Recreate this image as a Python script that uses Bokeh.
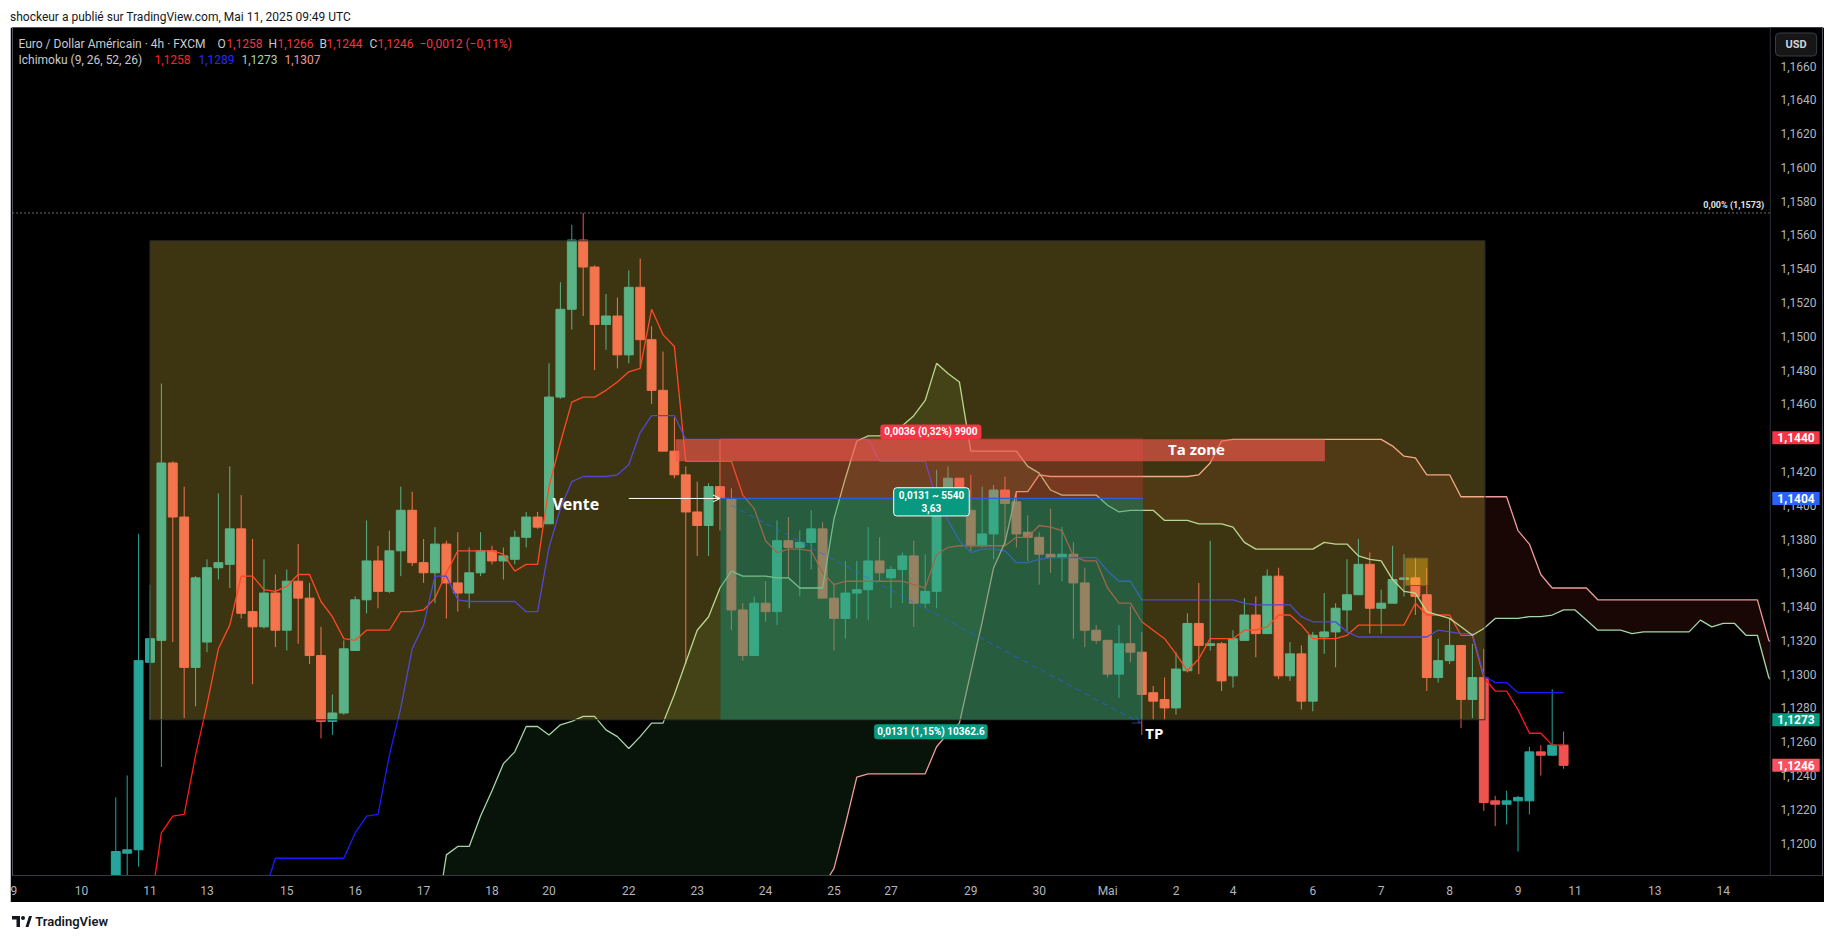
from bokeh.plotting import figure
from bokeh.models import (ColumnDataSource, Range1d, FixedTicker, CustomJSTickFormatter,
                          Label, Arrow, OpenHead, Div, Span)
from bokeh.layouts import column
from bokeh.embed import file_html
from bokeh.resources import INLINE

# ---------------- data (EUR/USD 4h, FXCM) ----------------
opens = [1.1160,1.1194,1.1196,1.1307,1.1320,1.1425,1.1393,1.1304,1.1319,1.1363,
         1.1365,1.1386,1.1337,1.1328,1.1348,1.1326,1.1355,1.1345,1.1311,1.1272,
         1.1277,1.1314,1.1344,1.1367,1.1349,1.1373,1.1397,1.1366,1.1360,1.1377,
         1.1354,1.1348,1.1360,1.1373,1.1367,1.1368,1.1381,1.1393,1.1389,1.1464,
         1.1516,1.1557,1.1541,1.1507,1.1512,1.1489,1.1529,1.1498,1.1468,1.1432,
         1.1418,1.1396,1.1388,1.1411,1.1404,1.1338,1.1311,1.1342,1.1337,1.1379,
         1.1375,1.1378,1.1386,1.1345,1.1333,1.1348,1.1350,1.1367,1.1357,1.1362,
         1.1370,1.1342,1.1349,1.1403,1.1416,1.1397,1.1376,1.1383,1.1409,1.1402,
         1.1384,1.1381,1.1371,1.1369,1.1371,1.1354,1.1326,1.1320,1.1300,1.1318,
         1.1313,1.1289,1.1285,1.1280,1.1302,1.1330,1.1317,1.1318,1.1299,1.1320,
         1.1335,1.1324,1.1358,1.1299,1.1312,1.1284,1.1322,1.1325,1.1338,1.1347,
         1.1365,1.1339,1.1342,1.1356,1.1357,1.1347,1.1298,1.1308,1.1317,1.1285,
         1.1298,1.1225,1.1223,1.1225,1.1225,1.1254,1.1252,1.1258]
highs = [1.1227,1.1240,1.1383,1.1353,1.1472,1.1426,1.1411,1.1358,1.1368,1.1407,
         1.1423,1.1406,1.1380,1.1368,1.1359,1.1362,1.1377,1.1354,1.1328,1.1288,
         1.1320,1.1346,1.1391,1.1376,1.1385,1.1411,1.1408,1.1380,1.1387,1.1379,
         1.1384,1.1375,1.1384,1.1376,1.1375,1.1385,1.1396,1.1396,1.1484,1.1532,
         1.1566,1.1573,1.1542,1.1525,1.1523,1.1539,1.1546,1.1506,1.1491,1.1452,
         1.1423,1.1414,1.1413,1.1439,1.1410,1.1342,1.1346,1.1355,1.1391,1.1393,
         1.1385,1.1397,1.1390,1.1354,1.1367,1.1367,1.1387,1.1381,1.1364,1.1372,
         1.1379,1.1371,1.1421,1.1423,1.1416,1.1418,1.1411,1.1412,1.1417,1.1408,
         1.1394,1.1384,1.1398,1.1387,1.1378,1.1363,1.1329,1.1320,1.1329,1.1340,
         1.1325,1.1293,1.1298,1.1313,1.1336,1.1354,1.1379,1.1319,1.1326,1.1345,
         1.1346,1.1362,1.1363,1.1319,1.1317,1.1325,1.1348,1.1342,1.1368,1.1380,
         1.1372,1.1350,1.1376,1.1371,1.1369,1.1363,1.1321,1.1333,1.1317,1.1318,
         1.1315,1.1228,1.1231,1.1228,1.1257,1.1258,1.1291,1.1266]
lows = [1.1150,1.1175,1.1186,1.1273,1.1245,1.1319,1.1274,1.1281,1.1313,1.1356,
        1.1351,1.1333,1.1294,1.1327,1.1316,1.1314,1.1318,1.1306,1.1262,1.1264,
        1.1276,1.1314,1.1336,1.1339,1.1348,1.1358,1.1364,1.1354,1.1342,1.1333,
        1.1337,1.1339,1.1358,1.1365,1.1356,1.1365,1.1375,1.1386,1.1389,1.1463,
        1.1504,1.1512,1.1480,1.1492,1.1481,1.1484,1.1482,1.1460,1.1432,1.1416,
        1.1306,1.1370,1.1370,1.1385,1.1326,1.1308,1.1311,1.1331,1.1329,1.1357,
        1.1346,1.1362,1.1345,1.1314,1.1321,1.1333,1.1332,1.1355,1.1339,1.1342,
        1.1328,1.1339,1.1339,1.1400,1.1395,1.1373,1.1375,1.1368,1.1376,1.1375,
        1.1367,1.1353,1.1360,1.1355,1.1321,1.1316,1.1318,1.1298,1.1286,1.1307,
        1.1264,1.1273,1.1273,1.1276,1.1301,1.1300,1.1314,1.1290,1.1292,1.1320,
        1.1310,1.1324,1.1297,1.1296,1.1279,1.1278,1.1312,1.1304,1.1325,1.1347,
        1.1324,1.1324,1.1342,1.1346,1.1335,1.1290,1.1295,1.1306,1.1268,1.1274,
        1.1219,1.1210,1.1211,1.1195,1.1217,1.1240,1.1252,1.1244]
closes = [1.1195,1.1196,1.1308,1.1321,1.1425,1.1393,1.1304,1.1357,1.1363,1.1366,
          1.1386,1.1336,1.1328,1.1348,1.1326,1.1355,1.1345,1.1311,1.1272,1.1277,
          1.1315,1.1344,1.1367,1.1349,1.1373,1.1397,1.1366,1.1360,1.1377,1.1354,
          1.1348,1.1360,1.1373,1.1367,1.1370,1.1381,1.1393,1.1387,1.1464,1.1516,
          1.1557,1.1541,1.1507,1.1512,1.1489,1.1529,1.1498,1.1468,1.1432,1.1418,
          1.1396,1.1388,1.1411,1.1404,1.1338,1.1311,1.1342,1.1337,1.1379,1.1375,
          1.1378,1.1386,1.1345,1.1333,1.1348,1.1350,1.1367,1.1360,1.1362,1.1370,
          1.1342,1.1349,1.1403,1.1416,1.1404,1.1376,1.1383,1.1409,1.1401,1.1383,
          1.1381,1.1371,1.1369,1.1371,1.1354,1.1326,1.1320,1.1300,1.1318,1.1313,
          1.1288,1.1284,1.1280,1.1303,1.1330,1.1317,1.1318,1.1296,1.1321,1.1335,
          1.1324,1.1358,1.1299,1.1312,1.1284,1.1323,1.1325,1.1339,1.1347,1.1365,
          1.1339,1.1342,1.1356,1.1357,1.1346,1.1298,1.1308,1.1317,1.1285,1.1298,
          1.1224,1.1223,1.1225,1.1227,1.1254,1.1252,1.1258,1.1246]

# Ichimoku (9, 26, 52, 26) lines, one value per bar
tenkan_start = 3
tenkan = [1.1160,1.1206,1.1216,1.1217,1.1252,1.1282,1.1315,1.1329,1.1358,1.1358,
          1.1350,1.1349,1.1352,1.1359,1.1359,1.1343,1.1334,1.1321,1.1320,1.1326,
          1.1326,1.1326,1.1337,1.1337,1.1338,1.1345,1.1360,1.1373,1.1373,1.1373,
          1.1373,1.1371,1.1361,1.1365,1.1365,1.1411,1.1437,1.1461,1.1464,1.1464,
          1.1468,1.1473,1.1479,1.1481,1.1516,1.1501,1.1494,1.1426,1.1426,1.1426,
          1.1426,1.1426,1.1406,1.1398,1.1379,1.1372,1.1374,1.1374,1.1373,1.1360,
          1.1353,1.1355,1.1355,1.1355,1.1355,1.1355,1.1355,1.1353,1.1351,1.1371,
          1.1375,1.1376,1.1376,1.1376,1.1376,1.1376,1.1381,1.1381,1.1388,1.1387,
          1.1385,1.1370,1.1367,1.1367,1.1351,1.1342,1.1342,1.1331,1.1326,1.1321,
          1.1312,1.1302,1.1309,1.1321,1.1321,1.1321,1.1326,1.1326,1.1328,1.1335,
          1.1335,1.1329,1.1321,1.1321,1.1321,1.1323,1.1329,1.1329,1.1329,1.1329,
          1.1329,1.1342,1.1335,1.1335,1.1335,1.1323,1.1323,1.1298,1.1290,1.1290,
          1.1279,1.1265,1.1265,1.1258,1.1258]
kijun_start = 13
kijun = [1.1170,1.1191,1.1191,1.1191,1.1191,1.1191,1.1191,1.1191,1.1206,1.1216,
         1.1217,1.1252,1.1280,1.1315,1.1329,1.1358,1.1358,1.1344,1.1343,1.1343,
         1.1343,1.1343,1.1343,1.1337,1.1337,1.1375,1.1398,1.1414,1.1417,1.1417,
         1.1417,1.1418,1.1424,1.1443,1.1453,1.1453,1.1453,1.1439,1.1439,1.1439,
         1.1439,1.1439,1.1439,1.1439,1.1439,1.1439,1.1439,1.1439,1.1439,1.1439,
         1.1439,1.1439,1.1439,1.1439,1.1426,1.1426,1.1426,1.1426,1.1426,1.1403,
         1.1391,1.1379,1.1372,1.1374,1.1374,1.1373,1.1366,1.1366,1.1368,1.1369,
         1.1369,1.1369,1.1369,1.1369,1.1361,1.1355,1.1355,1.1344,1.1344,1.1344,
         1.1344,1.1344,1.1344,1.1344,1.1344,1.1344,1.1342,1.1341,1.1341,1.1341,
         1.1341,1.1334,1.1331,1.1331,1.1331,1.1325,1.1322,1.1322,1.1322,1.1322,
         1.1322,1.1322,1.1322,1.1326,1.1325,1.1324,1.1324,1.1299,1.1295,1.1295,
         1.1289,1.1289,1.1289,1.1289,1.1289]
senkou_start = 28
senkou_a = [1.1150,1.1193,1.1198,1.1198,1.1216,1.1231,1.1247,1.1254,1.1269,1.1269,
            1.1264,1.1270,1.1272,1.1275,1.1275,1.1267,1.1263,1.1256,1.1263,1.1271,
            1.1271,1.1288,1.1307,1.1326,1.1334,1.1351,1.1361,1.1358,1.1358,1.1358,
            1.1357,1.1357,1.1351,1.1351,1.1351,1.1392,1.1416,1.1438,1.1441,1.1441,
            1.1444,1.1447,1.1453,1.1462,1.1484,1.1478,1.1473,1.1432,1.1432,1.1432,
            1.1432,1.1432,1.1423,1.1419,1.1409,1.1406,1.1406,1.1406,1.1406,1.1400,
            1.1396,1.1397,1.1397,1.1397,1.1391,1.1391,1.1391,1.1389,1.1389,1.1389,
            1.1387,1.1378,1.1374,1.1374,1.1374,1.1374,1.1374,1.1374,1.1378,1.1377,
            1.1377,1.1370,1.1368,1.1367,1.1356,1.1349,1.1348,1.1337,1.1335,1.1333,
            1.1328,1.1323,1.1327,1.1333,1.1333,1.1333,1.1334,1.1334,1.1335,1.1338,
            1.1338,1.1332,1.1326,1.1326,1.1326,1.1324,1.1325,1.1325,1.1325,1.1325,
            1.1325,1.1332,1.1328,1.1330,1.1330,1.1323,1.1323,1.1298,1.1290,1.1285,
            1.1280,1.1277,1.1275,1.1274,1.1273]
senkou_b = [1.1150,1.1150,1.1150,1.1150,1.1150,1.1150,1.1150,1.1150,1.1150,1.1150,
            1.1150,1.1150,1.1150,1.1150,1.1150,1.1150,1.1150,1.1150,1.1150,1.1150,
            1.1150,1.1150,1.1150,1.1150,1.1150,1.1150,1.1150,1.1150,1.1150,1.1150,
            1.1150,1.1150,1.1150,1.1160,1.1174,1.1185,1.1211,1.1239,1.1241,1.1241,
            1.1241,1.1241,1.1241,1.1241,1.1257,1.1265,1.1271,1.1301,1.1331,1.1363,
            1.1378,1.1408,1.1408,1.1418,1.1417,1.1417,1.1417,1.1417,1.1417,1.1417,
            1.1417,1.1417,1.1417,1.1417,1.1417,1.1417,1.1417,1.1418,1.1425,1.1438,
            1.1439,1.1439,1.1439,1.1439,1.1439,1.1439,1.1439,1.1439,1.1439,1.1439,
            1.1439,1.1439,1.1439,1.1439,1.1435,1.1429,1.1428,1.1418,1.1418,1.1418,
            1.1405,1.1405,1.1405,1.1405,1.1405,1.1385,1.1377,1.1359,1.1351,1.1351,
            1.1351,1.1351,1.1344,1.1344,1.1344,1.1344,1.1344,1.1344,1.1344,1.1344,
            1.1344,1.1344,1.1344,1.1344,1.1344,1.1344,1.1344,1.1320,1.1315,1.1312,
            1.1310,1.1309,1.1308,1.1307,1.1307]
cloud_cross = 81  # bar where leading span A falls below leading span B

price_ticks = [1.1200,1.1220,1.1240,1.1260,1.1280,1.1300,1.1320,1.1340,1.1360,1.1380,
               1.1400,1.1420,1.1440,1.1460,1.1480,1.1500,1.1520,1.1540,1.1560,1.1580,
               1.1600,1.1620,1.1640,1.1660]
time_tick_pos = [-9, -3, 3, 8, 15, 21, 27, 33, 38, 45, 51, 57, 63, 68, 75, 81, 87, 93, 98,
                 105, 111, 117, 123, 128, 135, 141]
time_tick_labels = ["9", "10", "11", "13", "15", "16", "17", "18", "20", "22", "23", "24",
                    "25", "27", "29", "30", "Mai", "2", "4", "6", "7", "8", "9", "11", "13", "14"]

# drawing objects (price levels / bar spans)
box_span = (3.0, 120.1); box_prices = (1.1273, 1.15565)
position_span = (53.04, 90.1)
entry_price = 1.1404; stop_price = 1.1440; target_price = 1.1273
ta_zone_span = (49.1, 106.06); ta_zone_prices = (1.1426, 1.1439)
small_span = (113.1, 115.09); small_prices = (1.13525, 1.13687)
fib_level = 1.1573
axis_badges = [(1.1440, "1,1440", "#f23645"), (1.1404, "1,1404", "#2962ff"),
               (1.1273, "1,1273", "#089981"), (1.1246, "1,1246", "#f7525f")]

UP = "#26a69a"; DOWN = "#ef5350"
FONT = "Roboto"
X0, XPLOT, XEND = -9.06, 145.13, 149.71   # left edge, price-scale edge, right edge (bars)
Y0, Y1 = 1.11808, 1.16828

# ---------------- figure ----------------
p = figure(frame_width=1810, frame_height=848,
           x_range=Range1d(X0, XEND), y_range=Range1d(Y0, Y1),
           output_backend="svg", toolbar_location=None, y_axis_location="right",
           min_border_left=2, min_border_right=2, min_border_top=0, min_border_bottom=27,
           background_fill_color="#000000", border_fill_color="#000000",
           outline_line_color="#50535e", margin=(0, 0, 0, 10))
p.grid.visible = False

# cloud fill
n = min(len(senkou_a), len(senkou_b))
sx = [senkou_start + k for k in range(n)]
ci = cloud_cross - senkou_start
p.varea(x=sx[:ci + 1], y1=senkou_a[:ci + 1], y2=senkou_b[:ci + 1],
        fill_color="#43a047", fill_alpha=0.12)
p.varea(x=sx[ci:], y1=senkou_a[ci:n], y2=senkou_b[ci:n],
        fill_color="#f44336", fill_alpha=0.10)

# candles
bars = list(range(len(opens)))
src = ColumnDataSource(dict(
    x=bars, o=opens, h=highs, l=lows, c=closes,
    top=[max(o, c) for o, c in zip(opens, closes)],
    bottom=[min(o, c) for o, c in zip(opens, closes)],
    color=[UP if c >= o else DOWN for o, c in zip(opens, closes)]))
p.segment(x0="x", y0="l", x1="x", y1="h", line_color="color", line_width=1, source=src)
p.vbar(x="x", width=0.78, top="top", bottom="bottom", fill_color="color",
       line_color="color", line_width=1, source=src)

# ichimoku lines
p.line([tenkan_start + k for k in range(len(tenkan))], tenkan, line_color="#ff1a1a", line_width=1.3)
p.line([kijun_start + k for k in range(len(kijun))], kijun, line_color="#1a1aff", line_width=1.3)
p.line([senkou_start + k for k in range(len(senkou_a))], senkou_a, line_color="#a5d6a7", line_width=1.3)
p.line([senkou_start + k for k in range(len(senkou_b))], senkou_b, line_color="#ef9a9a", line_width=1.3)

# drawings
p.quad(left=[box_span[0]], right=[box_span[1]], bottom=[box_prices[0]], top=[box_prices[1]],
       fill_color="#ffde46", fill_alpha=0.24, line_color="#2c2c2c", line_width=1)
p.quad(left=[position_span[0]], right=[position_span[1]], bottom=[target_price], top=[entry_price],
       fill_color="#089981", fill_alpha=0.40, line_color=None)
p.quad(left=[position_span[0]], right=[position_span[1]], bottom=[entry_price], top=[stop_price],
       fill_color="#f23645", fill_alpha=0.25, line_color=None)
p.segment(x0=[position_span[0]], y0=[entry_price], x1=[position_span[1]], y1=[entry_price],
          line_color="#2f5fd0", line_width=1.3)
p.quad(left=[ta_zone_span[0]], right=[ta_zone_span[1]], bottom=[ta_zone_prices[0]], top=[ta_zone_prices[1]],
       fill_color="#ff5a52", fill_alpha=0.60, line_color=None)
p.quad(left=[small_span[0]], right=[small_span[1]], bottom=[small_prices[0]], top=[small_prices[1]],
       fill_color="#ffc21a", fill_alpha=0.40, line_color="#6d5f2a", line_width=1)
p.segment(x0=[X0], y0=[fib_level], x1=[XPLOT], y1=[fib_level], line_color="#d1d4dc",
          line_dash="1 3", line_width=1)

# price-scale strip (black) and separator
p.quad(left=[XPLOT], right=[XEND], bottom=[Y0], top=[Y1], fill_color="#000000", line_color=None)
p.add_layout(Span(location=XPLOT, dimension="height", line_color="#2a2e39", line_width=1))

p.add_layout(Arrow(end=OpenHead(size=7, line_color="white", line_width=1),
                   x_start=45.0, y_start=entry_price, x_end=53.0, y_end=entry_price,
                   line_color="white", line_width=1))
p.add_layout(Arrow(end=OpenHead(size=8, line_color="#2962ff", line_alpha=0.6, line_width=1),
                   x_start=54.0, y_start=1.1400, x_end=89.9, y_end=1.1271,
                   line_color="#2962ff", line_alpha=0.55, line_dash="6 4", line_width=1.2))

def txt(x, y, text, **kw):
    opts = dict(text_font=FONT, text_font_size="12px", text_color="#c8cad0",
                text_baseline="middle", text_align="left")
    opts.update(kw)
    p.add_layout(Label(x=x, y=y, text=text, **opts))

txt(38.3, 1.1401, "Vente", text_font="Open Sans", text_font_size="16px",
    text_font_style="bold", text_color="white")
txt(92.3, 1.14335, "Ta zone", text_font="Open Sans", text_font_size="15px",
    text_font_style="bold", text_color="white")
txt(90.3, 1.1265, "TP", text_font="Open Sans", text_font_size="15px",
    text_font_style="bold", text_color="white")

txt(71.5, 1.14434, "0,0036 (0,32%) 9900", text_align="center", text_font_size="10px",
    text_font_style="bold", text_color="white", background_fill_color="#f23645",
    padding=(4, 2), border_radius=3)
txt(71.55, 1.1402, "0,0131 ~ 5540\n3,63", text_align="center", text_font_size="10px",
    text_font_style="bold", text_color="white", background_fill_color="#089981",
    border_line_color="white", border_line_width=1, padding=(5, 2), border_radius=3)
txt(71.5, 1.12659, "0,0131 (1,15%) 10362.6", text_align="center", text_font_size="10px",
    text_font_style="bold", text_color="white", background_fill_color="#089981",
    padding=(3, 2), border_radius=3)
txt(144.6, fib_level, "0,00% (1,1573)", text_align="right", text_font_size="9px",
    text_font_style="bold", text_color="#e0e0e0", y_offset=8)

# price badges on the price scale
for price, lab, col in axis_badges:
    txt(XPLOT, price, lab, x_offset=2, text_font_size="12px", text_font_style="bold",
        text_color="white", background_fill_color=col, padding=(5, 2))

# USD button
p.add_layout(Label(x=1763, y=831, x_units="screen", y_units="screen", text="USD",
                   text_font=FONT, text_font_size="11px", text_font_style="bold",
                   text_color="#d1d4dc", text_baseline="middle",
                   background_fill_color="#161616", border_line_color="#3a3d45",
                   padding=(10, 5), border_radius=4))

# legend lines
def leg(x, y, text, color):
    p.add_layout(Label(x=x, y=y, x_units="screen", y_units="screen", text=text,
                       text_font=FONT, text_font_size="12px", text_color=color,
                       text_baseline="middle"))

GRAY = "#c8cad0"; RED = "#f23645"
leg(6, 832, "Euro / Dollar Américain · 4h · FXCM", GRAY)
leg(205, 832, "O", GRAY); leg(214, 832, "1,1258", RED)
leg(256, 832, "H", GRAY); leg(265, 832, "1,1266", RED)
leg(307, 832, "B", GRAY); leg(314, 832, "1,1244", RED)
leg(357, 832, "C", GRAY); leg(365, 832, "1,1246", RED)
leg(407, 832, "−0,0012 (−0,11%)", RED)
leg(6, 816, "Ichimoku (9, 26, 52, 26)", GRAY)
leg(142, 816, "1,1258", "#ff2020")
leg(186, 816, "1,1289", "#2a2aff")
leg(229, 816, "1,1273", "#a5d6a7")
leg(272, 816, "1,1307", "#ef9a9a")

# axes
ya = p.yaxis[0]
ya.ticker = FixedTicker(ticks=price_ticks)
ya.formatter = CustomJSTickFormatter(code="return tick.toFixed(4).replace('.', ',');")
ya.major_label_text_color = "#b2b5be"
ya.major_label_text_font = FONT
ya.major_label_text_font_size = "12px"
ya.major_tick_out = 0
ya.major_tick_in = 0
ya.major_label_standoff = -42
ya.axis_line_color = "#50535e"
ya.major_tick_line_color = None
ya.minor_tick_line_color = None

xa = p.xaxis[0]
xa.ticker = FixedTicker(ticks=time_tick_pos)
xa.major_label_overrides = {pos: lab for pos, lab in zip(time_tick_pos, time_tick_labels)}
xa.major_label_text_color = "#b2b5be"
xa.major_label_text_font = FONT
xa.major_label_text_font_size = "12px"
xa.major_tick_out = 0
xa.major_tick_in = 0
xa.major_label_standoff = 8
xa.axis_line_color = "#363a45"
xa.major_tick_line_color = None
xa.minor_tick_line_color = None

header = Div(text="shockeur a publié sur TradingView.com, Mai 11, 2025 09:49 UTC",
             width=1835, height=27, margin=(0, 0, 0, 0),
             styles={"font-family": "Roboto", "font-size": "12px", "color": "#131722",
                     "line-height": "19px", "padding-left": "10px", "padding-top": "8px",
                     "background": "white", "box-sizing": "border-box"})
logo = ('<svg width="20" height="11" viewBox="0 0 20 11" style="vertical-align:-1px">'
        '<path d="M0 0h8v11H4.5V3.5H0z" fill="#131722"/>'
        '<circle cx="11" cy="2" r="2" fill="#131722"/>'
        '<path d="M13.5 11L17 0h3l-3.5 11z" fill="#131722"/></svg>')
footer = Div(text=logo + ' <span style="font-weight:600">TradingView</span>',
             width=1835, height=34, margin=(0, 0, 0, 0),
             styles={"font-family": "Roboto", "font-size": "13px", "color": "#131722",
                     "padding-top": "11px", "padding-left": "12px", "background": "white",
                     "box-sizing": "border-box"})

layout = column(header, p, footer, spacing=0)
open("out.html", "w").write(file_html(layout, INLINE))
